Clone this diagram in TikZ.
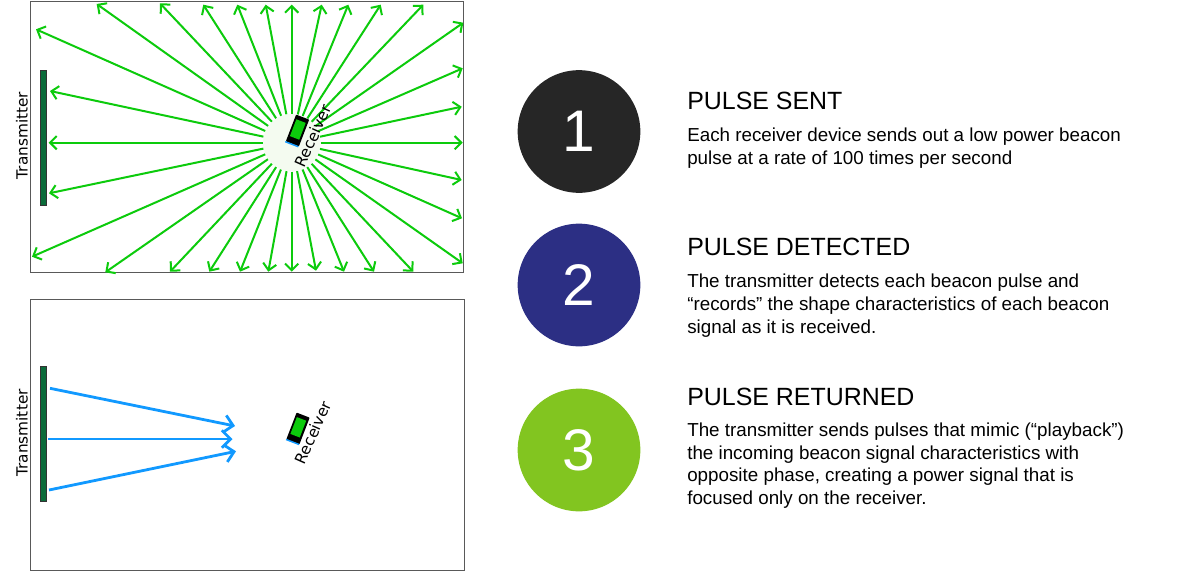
\documentclass[tikz,border=0pt]{standalone}
\usepackage{fontspec}
\setmainfont{Liberation Sans}
\newfontfamily\labelfont{DejaVu Sans}
\usepackage{xcolor}
\usetikzlibrary{arrows.meta}
\definecolor{pulsegreen}{HTML}{0CCB0C}
\definecolor{returnblue}{HTML}{1199FF}
\definecolor{bargreen}{HTML}{0B6B3A}
\definecolor{glowgreen}{HTML}{F4FBF0}
\definecolor{stepone}{HTML}{262626}
\definecolor{steptwo}{HTML}{2C2F84}
\definecolor{stepthree}{HTML}{82C520}
\begin{document}
\begin{tikzpicture}[x=0.75pt,y=-0.75pt,
    roombox/.style={draw=black!65, line width=0.75pt, fill=white},
    txbar/.style={draw=black!80, fill=bargreen, line width=0.4pt, minimum width=4.2pt, minimum height=101.5pt, inner sep=0pt},
    sidelabel/.style={font=\labelfont\fontsize{11.5}{13}\selectfont, inner sep=0pt},
    sentarrow/.style={draw=pulsegreen, line width=1.5pt, -{Straight Barb[length=5pt,width=10pt,line width=1.5pt]}},
    backarrow/.style={draw=returnblue, line width=2.1pt, -{Straight Barb[length=6.5pt,width=13pt,line width=2.1pt]}},
    phonebody/.style={draw=none, fill=black, rotate=-21, minimum width=10.5pt, minimum height=21.5pt, inner sep=0pt, rounded corners=0.5pt},
    phonescreen/.style={fill=pulsegreen, rotate=-21, minimum width=7.5pt, minimum height=13.5pt, inner sep=0pt},
    phonestrip/.style={fill=returnblue, rotate=-21, minimum width=10.5pt, minimum height=1.1pt, inner sep=0pt},
    stepdisc/.style={circle, minimum size=92pt, inner sep=0pt, text=white, font=\fontsize{44}{44}\selectfont},
    stephead/.style={anchor=base west, inner sep=0pt, font=\fontsize{18.7}{20}\selectfont},
    steptext/.style={anchor=north west, inner sep=0pt, align=left, font=\fontsize{14.1}{17}\selectfont}]
    \useasboundingbox (0,0) rectangle (1184,571);

    % top room
    \node[roombox, minimum width=324.75pt, minimum height=203.25pt, inner sep=0pt] (roomA) at (247,137.2) {};
    \node[txbar] (barA) at (43,137.5) {};
    \node[sidelabel, rotate=90] (txA) at (22,135.5) {Transmitter};
    \node[circle, fill=glowgreen, minimum size=43pt, inner sep=0pt] (glow) at (291.7,142.7) {};
    \foreach \tx/\ty [count=\i] in {462.7/142.7, 461.7/106.7, 462.7/68.3, 463.3/22.7, 423.3/4.7, 380.7/4.7, 348.3/4.7, 321.7/4.7,
        291.7/4.7, 265.7/4.7, 237.3/4.7, 203.3/4.7, 160/3.3, 96.7/4, 36/29.3, 50/91,
        48.7/142.7, 49/193.3, 32/256.7, 105.3/272.3, 170/271.7, 209.3/271.7, 240/271.7, 268.3/271.7,
        291.7/271.7, 316/270.7, 344/271.7, 374/271.7, 413.3/271.7, 462.7/263.3, 462/218.3, 461.7/180}{
        \coordinate (tip\i) at (\tx,\ty);
        \draw[sentarrow] (glow) -- (tip\i);
    }
    \node[phonebody] (phoneA) at (297.5,130.5) {};
    \node[phonestrip] (stripA) at (291.8,144.2) {};
    \node[phonescreen] (screenA) at (297.8,129.5) {};
    \node[sidelabel, rotate=66] (rxA) at (313,136) {Receiver};

    % bottom room
    \node[roombox, minimum width=325.5pt, minimum height=203.25pt, inner sep=0pt] (roomB) at (247.7,434.5) {};
    \node[txbar] (barB) at (43,434) {};
    \node[sidelabel, rotate=90] (txB) at (22,433) {Transmitter};
    \coordinate (startB1) at (50,388.3);
    \coordinate (startB2) at (48.3,439);
    \coordinate (startB3) at (49,490);
    \coordinate (endB1) at (235,426);
    \coordinate (endB2) at (232.5,439);
    \coordinate (endB3) at (236,451.3);
    \draw[backarrow] (startB1) -- (endB1);
    \draw[backarrow] (startB2) -- (endB2);
    \draw[backarrow] (startB3) -- (endB3);
    \node[phonebody] (phoneB) at (298,428.5) {};
    \node[phonestrip] (stripB) at (292.6,442) {};
    \node[phonescreen] (screenB) at (298.3,427.3) {};
    \node[sidelabel, rotate=66] (rxB) at (313,432.5) {Receiver};

    % steps
    \node[stepdisc, fill=stepone] (one) at (579,131.5) {1};
    \node[stepdisc, fill=steptwo] (two) at (579,285) {2};
    \node[stepdisc, fill=stepthree] (three) at (579,450) {3};

    \node[stephead] (headone) at (687,109) {PULSE SENT};
    \node[steptext] (textone) at (687,128) {Each receiver device sends out a low power beacon\\pulse at a rate of 100 times per second};
    \node[stephead] (headtwo) at (687,255) {PULSE DETECTED};
    \node[steptext] (texttwo) at (687,274) {The transmitter detects each beacon pulse and\\“records” the shape characteristics of each beacon\\signal as it is received.};
    \node[stephead] (headthree) at (687,405) {PULSE RETURNED};
    \node[steptext] (textthree) at (687,422.5) {The transmitter sends pulses that mimic (“playback”)\\the incoming beacon signal characteristics with\\opposite phase, creating a power signal that is\\focused only on the receiver.};
\end{tikzpicture}
\end{document}
